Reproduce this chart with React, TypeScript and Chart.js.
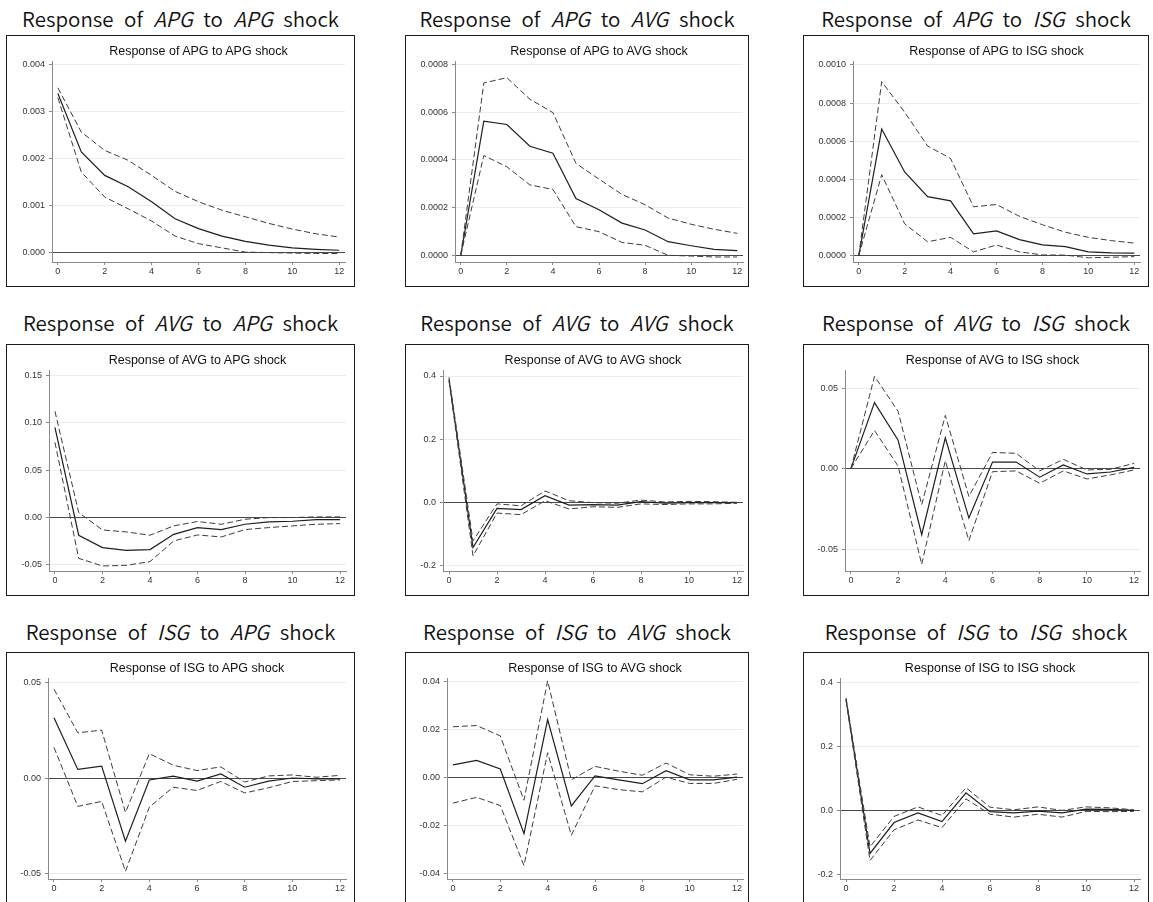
import React, { useEffect, useRef } from "react";
import { Chart, registerables } from "chart.js";

Chart.register(...registerables);

const horizons = [0, 1, 2, 3, 4, 5, 6, 7, 8, 9, 10, 11, 12];
const xTickLabels = ["0", "2", "4", "6", "8", "10", "12"];

// Response of APG to APG shock
const apgApgIrf = [0.00338, 0.00214, 0.00164, 0.0014, 0.00108, 0.00072, 0.00051, 0.00035, 0.00024, 0.00016, 0.0001, 0.00007, 0.00005];
const apgApgUpper = [0.0035, 0.00256, 0.00217, 0.00196, 0.00164, 0.0013, 0.00108, 0.0009, 0.00076, 0.00062, 0.0005, 0.0004, 0.00033];
const apgApgLower = [0.00329, 0.00171, 0.00118, 0.00093, 0.00067, 0.00035, 0.00019, 0.0001, 0.00001, 0.0, -0.00001, -0.00002, -0.00002];
const apgApgYTicks = ["0.000", "0.001", "0.002", "0.003", "0.004"];

// Response of APG to AVG shock
const apgAvgIrf = [0, 0.000562, 0.000548, 0.000457, 0.000428, 0.000238, 0.000191, 0.000135, 0.000106, 0.000057, 0.00004, 0.000025, 0.00002];
const apgAvgUpper = [0, 0.000722, 0.000744, 0.000654, 0.000598, 0.000385, 0.000319, 0.000255, 0.000212, 0.000156, 0.00013, 0.000109, 0.000092];
const apgAvgLower = [0, 0.000418, 0.000371, 0.000295, 0.000276, 0.00012, 0.000099, 0.000054, 0.000042, 0.0, -0.000003, -0.000007, -0.000007];
const apgAvgYTicks = ["0.0000", "0.0002", "0.0004", "0.0006", "0.0008"];

// Response of APG to ISG shock
const apgIsgIrf = [0, 0.000664, 0.000439, 0.00031, 0.000288, 0.000115, 0.000131, 0.000085, 0.000058, 0.000048, 0.000021, 0.000016, 0.000014];
const apgIsgUpper = [0, 0.000912, 0.000752, 0.000575, 0.00051, 0.000257, 0.000269, 0.000207, 0.000163, 0.000124, 0.000097, 0.00008, 0.000067];
const apgIsgLower = [0, 0.000425, 0.000168, 0.000074, 0.000097, 0.000021, 0.000057, 0.000021, 0.000005, 0.000004, -0.00001, -0.000007, -0.000004];
const apgIsgYTicks = ["0.0000", "0.0002", "0.0004", "0.0006", "0.0008", "0.0010"];

// Response of AVG to APG shock
const avgApgIrf = [0.0954, -0.0187, -0.0318, -0.0346, -0.0339, -0.0177, -0.0106, -0.0127, -0.0071, -0.0046, -0.0039, -0.0021, -0.0021];
const avgApgUpper = [0.1124, 0.0053, -0.0131, -0.0152, -0.0187, -0.0088, -0.0042, -0.0071, -0.0018, 0.0, 0.0, 0.0007, 0.0007];
const avgApgLower = [0.0795, -0.0431, -0.0512, -0.0505, -0.0466, -0.0247, -0.0184, -0.0205, -0.0127, -0.0106, -0.0088, -0.0071, -0.0064];
const avgApgYTicks = ["-0.05", "0.00", "0.05", "0.10", "0.15"];

// Response of AVG to AVG shock
const avgAvgIrf = [0.389, -0.142, -0.018, -0.022, 0.022, -0.008, -0.006, -0.008, 0.003, -0.002, 0.0, 0.0, 0.0];
const avgAvgUpper = [0.396, -0.121, -0.004, -0.01, 0.037, 0.006, 0.0, -0.002, 0.008, 0.002, 0.004, 0.003, 0.001];
const avgAvgLower = [0.385, -0.168, -0.033, -0.038, 0.006, -0.02, -0.013, -0.015, -0.004, -0.006, -0.004, -0.004, -0.002];
const avgAvgYTicks = ["-0.2", "0.0", "0.2", "0.4"];

// Response of AVG to ISG shock
const avgIsgIrf = [0, 0.041, 0.0177, -0.041, 0.0191, -0.0307, 0.0041, 0.0041, -0.0053, 0.0023, -0.0033, -0.0021, 0.0008];
const avgIsgUpper = [0, 0.0574, 0.0356, -0.0224, 0.0331, -0.0173, 0.0101, 0.0095, -0.0014, 0.0058, -0.0008, -0.0004, 0.0033];
const avgIsgLower = [0, 0.0237, 0.0016, -0.0595, 0.0049, -0.0447, -0.0019, -0.0014, -0.0091, -0.0014, -0.0064, -0.0039, -0.0008];
const avgIsgYTicks = ["-0.05", "0.00", "0.05"];

// Response of ISG to APG shock
const isgApgIrf = [0.0314, 0.0045, 0.0062, -0.033, -0.001, 0.001, -0.0016, 0.0021, -0.0048, -0.0016, 0.0, -0.0004, -0.0004];
const isgApgUpper = [0.0464, 0.0236, 0.025, -0.018, 0.0127, 0.0067, 0.0039, 0.0058, -0.0021, 0.0011, 0.0016, 0.0004, 0.0014];
const isgApgLower = [0.016, -0.0148, -0.0122, -0.0487, -0.0152, -0.0048, -0.0065, -0.0018, -0.0078, -0.0051, -0.0018, -0.0014, -0.001];
const isgApgYTicks = ["-0.05", "0.00", "0.05"];

// Response of ISG to AVG shock
const isgAvgIrf = [0.0054, 0.0073, 0.0037, -0.0232, 0.0243, -0.0117, 0.0008, -0.0008, -0.0024, 0.003, -0.0008, -0.0008, 0.0003];
const isgAvgUpper = [0.0213, 0.0218, 0.0175, -0.0093, 0.0404, -0.0008, 0.0048, 0.0028, 0.0011, 0.0062, 0.0013, 0.0007, 0.0016];
const isgAvgLower = [-0.0105, -0.0081, -0.0115, -0.0365, 0.0105, -0.0239, -0.0033, -0.0049, -0.0058, 0.0003, -0.0023, -0.0023, -0.0006];
const isgAvgYTicks = ["-0.04", "-0.02", "0.00", "0.02", "0.04"];

// Response of ISG to ISG shock
const isgIsgIrf = [0.349, -0.135, -0.038, -0.008, -0.035, 0.055, -0.004, -0.008, -0.002, -0.008, 0.004, 0.003, 0.0];
const isgIsgUpper = [0.353, -0.114, -0.019, 0.011, -0.016, 0.071, 0.01, 0.002, 0.011, 0.0, 0.011, 0.008, 0.002];
const isgIsgLower = [0.345, -0.157, -0.061, -0.03, -0.054, 0.036, -0.012, -0.021, -0.012, -0.021, -0.003, -0.004, -0.003];
const isgIsgYTicks = ["-0.2", "0.0", "0.2", "0.4"];

type PanelDef = {
  resp: string;
  shock: string;
  irf: number[];
  upper: number[];
  lower: number[];
  yTicks: string[];
  yMin: number;
  yMax: number;
  left: number;
  top: number;
  width: number;
  yAxisW: number;
  rightPad: number;
  titleY: number;
};

const BOX_H = 252;
const PLOT_TOP = 25;
const X_AXIS_H = 24;

const panels: PanelDef[] = [
  { resp: "APG", shock: "APG", irf: apgApgIrf, upper: apgApgUpper, lower: apgApgLower, yTicks: apgApgYTicks, yMin: -0.0002, yMax: 0.00407, left: 6, top: 35, width: 349, yAxisW: 45, rightPad: 9, titleY: 18 },
  { resp: "APG", shock: "AVG", irf: apgAvgIrf, upper: apgAvgUpper, lower: apgAvgLower, yTicks: apgAvgYTicks, yMin: -0.000028, yMax: 0.000814, left: 405, top: 35, width: 344, yAxisW: 49, rightPad: 5, titleY: 18 },
  { resp: "APG", shock: "ISG", irf: apgIsgIrf, upper: apgIsgUpper, lower: apgIsgLower, yTicks: apgIsgYTicks, yMin: -0.000032, yMax: 0.00102, left: 803, top: 35, width: 346, yAxisW: 49, rightPad: 8, titleY: 18 },
  { resp: "AVG", shock: "APG", irf: avgApgIrf, upper: avgApgUpper, lower: avgApgLower, yTicks: avgApgYTicks, yMin: -0.0565, yMax: 0.156, left: 6, top: 344, width: 349, yAxisW: 42, rightPad: 8, titleY: 322 },
  { resp: "AVG", shock: "AVG", irf: avgAvgIrf, upper: avgAvgUpper, lower: avgAvgLower, yTicks: avgAvgYTicks, yMin: -0.216, yMax: 0.419, left: 405, top: 344, width: 344, yAxisW: 37, rightPad: 5, titleY: 322 },
  { resp: "AVG", shock: "ISG", irf: avgIsgIrf, upper: avgIsgUpper, lower: avgIsgLower, yTicks: avgIsgYTicks, yMin: -0.0636, yMax: 0.0613, left: 803, top: 344, width: 346, yAxisW: 41, rightPad: 8, titleY: 322 },
  { resp: "ISG", shock: "APG", irf: isgApgIrf, upper: isgApgUpper, lower: isgApgLower, yTicks: isgApgYTicks, yMin: -0.0527, yMax: 0.0522, left: 6, top: 652, width: 349, yAxisW: 41, rightPad: 8, titleY: 631 },
  { resp: "ISG", shock: "AVG", irf: isgAvgIrf, upper: isgAvgUpper, lower: isgAvgLower, yTicks: isgAvgYTicks, yMin: -0.0421, yMax: 0.0416, left: 405, top: 652, width: 344, yAxisW: 41, rightPad: 5, titleY: 631 },
  { resp: "ISG", shock: "ISG", irf: isgIsgIrf, upper: isgIsgUpper, lower: isgIsgLower, yTicks: isgIsgYTicks, yMin: -0.215, yMax: 0.415, left: 803, top: 652, width: 346, yAxisW: 36, rightPad: 8, titleY: 631 },
];

const tickFont = { family: "'Liberation Sans', Arial, sans-serif", size: 9 };

function Panel({ p }: { p: PanelDef }) {
  const ref = useRef<HTMLCanvasElement>(null);
  const cw = p.width - 2;
  const ch = BOX_H - 2;

  useEffect(() => {
    const yVals = p.yTicks.map((t) => parseFloat(t));
    const mk = (arr: number[]) => horizons.map((h, i) => ({ x: h, y: arr[i] }));
    const chart = new Chart(ref.current as HTMLCanvasElement, {
      type: "line",
      data: {
        datasets: [
          { data: mk(p.upper), borderColor: "#3c3c3c", borderWidth: 1, borderDash: [6, 3], pointRadius: 0, fill: false, tension: 0 },
          { data: mk(p.lower), borderColor: "#3c3c3c", borderWidth: 1, borderDash: [6, 3], pointRadius: 0, fill: false, tension: 0 },
          { data: mk(p.irf), borderColor: "#1e1e1e", borderWidth: 1.2, pointRadius: 0, fill: false, tension: 0 },
        ],
      },
      options: {
        responsive: false,
        animation: false,
        devicePixelRatio: 1,
        layout: { padding: { top: PLOT_TOP, right: p.rightPad, left: 0, bottom: 0 } },
        plugins: { legend: { display: false }, tooltip: { enabled: false }, title: { display: false } },
        scales: {
          x: {
            type: "linear",
            min: -0.25,
            max: 12.25,
            afterBuildTicks: (s: any) => {
              s.ticks = xTickLabels.map((t) => ({ value: Number(t) }));
            },
            afterFit: (s: any) => {
              s.height = X_AXIS_H;
            },
            ticks: {
              font: tickFont,
              color: "#333",
              padding: 1,
              maxRotation: 0,
              autoSkip: false,
              callback: (v: any, i: number) => xTickLabels[i],
            },
            grid: { drawOnChartArea: false, tickLength: 3, color: "#8a8a8a" },
            border: { color: "#8a8a8a", width: 1 },
          },
          y: {
            type: "linear",
            min: p.yMin,
            max: p.yMax,
            afterBuildTicks: (s: any) => {
              s.ticks = yVals.map((v) => ({ value: v }));
            },
            afterFit: (s: any) => {
              s.width = p.yAxisW;
            },
            ticks: {
              font: tickFont,
              color: "#333",
              padding: 4,
              autoSkip: false,
              callback: (v: any, i: number) => p.yTicks[i],
            },
            grid: {
              tickLength: 3,
              tickColor: "#8a8a8a",
              color: (ctx: any) => (ctx.tick && ctx.tick.value === 0 ? "#4a4a4a" : "#ececec"),
              lineWidth: 1,
            },
            border: { color: "#8a8a8a", width: 1 },
          },
        },
      } as any,
    });
    return () => chart.destroy();
  }, [p]);

  const plotW = cw - p.yAxisW - p.rightPad;

  return (
    <>
      <div
        style={{
          position: "absolute",
          left: p.left - 20,
          width: p.width + 40,
          top: p.titleY - 14,
          height: 28,
          lineHeight: "28px",
          textAlign: "center",
          fontFamily: "'Noto Sans CJK KR', 'Noto Sans', sans-serif",
          fontWeight: 350,
          fontSize: 20.5,
          color: "#111",
          wordSpacing: 6,
          whiteSpace: "nowrap",
        }}
      >
        Response of <i>{p.resp}</i> to <i>{p.shock}</i> shock
      </div>
      <div
        style={{
          position: "absolute",
          left: p.left,
          top: p.top,
          width: p.width,
          height: BOX_H,
          boxSizing: "border-box",
          border: "1px solid #1a1a1a",
          background: "#fff",
        }}
      >
        <canvas ref={ref} width={cw} height={ch} style={{ width: cw, height: ch, display: "block" }} />
        <div
          style={{
            position: "absolute",
            left: p.yAxisW,
            width: plotW,
            top: 7,
            height: 16,
            lineHeight: "16px",
            textAlign: "center",
            fontFamily: "'Liberation Sans', Arial, sans-serif",
            fontSize: 12.5,
            color: "#111",
            whiteSpace: "nowrap",
          }}
        >
          Response of {p.resp} to {p.shock} shock
        </div>
      </div>
    </>
  );
}

export default function App() {
  useEffect(() => {
    document.body.style.margin = "0";
    document.body.style.overflow = "hidden";
    document.body.style.background = "#fff";
  }, []);
  return (
    <div style={{ position: "absolute", left: 0, top: 0, width: 1153, height: 902, overflow: "hidden", background: "#fff" }}>
      {panels.map((p, i) => (
        <Panel key={i} p={p} />
      ))}
    </div>
  );
}
